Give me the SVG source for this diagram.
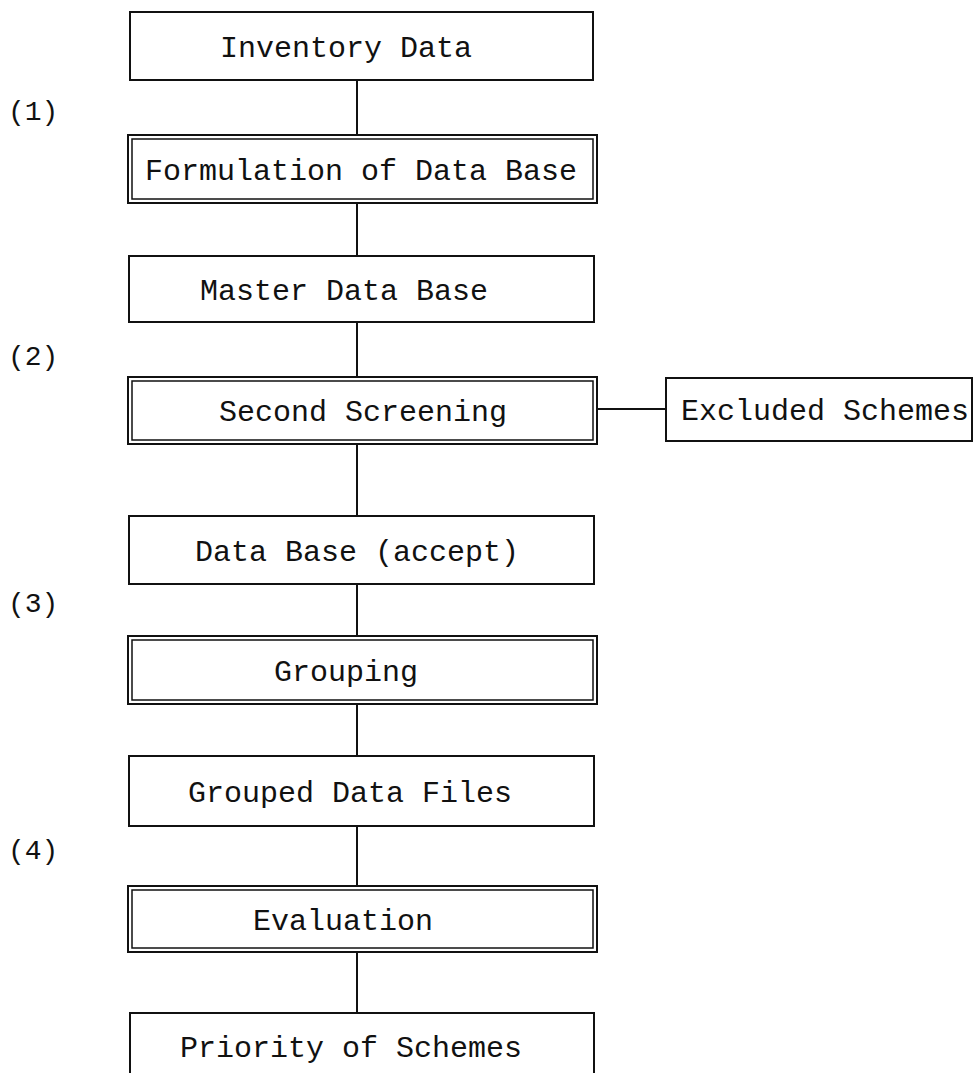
<svg xmlns="http://www.w3.org/2000/svg" width="974" height="1073" viewBox="0 0 974 1073">
<style>
.box{fill:#fff;stroke:#111;stroke-width:2}
.in{fill:none;stroke:#111;stroke-width:1.5}
.t{font-family:"Liberation Mono","Courier New",monospace;font-size:30px;fill:#111;text-anchor:middle}
.lbl{font-family:"Liberation Mono","Courier New",monospace;font-size:28px;fill:#111}
.c{stroke:#111;stroke-width:2;fill:none}
</style>
<rect width="974" height="1073" fill="#fff"/>
<g id="connectors">
<line class="c" x1="357" y1="80" x2="357" y2="135"/>
<line class="c" x1="357" y1="203" x2="357" y2="256"/>
<line class="c" x1="357" y1="322" x2="357" y2="377"/>
<line class="c" x1="357" y1="444" x2="357" y2="516"/>
<line class="c" x1="357" y1="584" x2="357" y2="636"/>
<line class="c" x1="357" y1="704" x2="357" y2="756"/>
<line class="c" x1="357" y1="826" x2="357" y2="886"/>
<line class="c" x1="357" y1="952" x2="357" y2="1013"/>
<line class="c" x1="597" y1="409" x2="666" y2="409" stroke-width="1.5"/>
</g>
<g id="labels">
<text class="lbl" x="8" y="120">(1)</text>
<text class="lbl" x="8" y="365">(2)</text>
<text class="lbl" x="8" y="612">(3)</text>
<text class="lbl" x="8" y="859">(4)</text>
</g>
<g id="n1"><rect class="box" x="130" y="12" width="463" height="68"/><text class="t" x="346" y="57">Inventory Data</text></g>
<g id="n2"><rect class="box" x="128" y="135" width="469" height="68"/><rect class="in" x="132" y="139" width="461" height="60"/><text class="t" x="361" y="180">Formulation of Data Base</text></g>
<g id="n3"><rect class="box" x="129" y="256" width="465" height="66"/><text class="t" x="344" y="300">Master Data Base</text></g>
<g id="n4"><rect class="box" x="128" y="377" width="469" height="67"/><rect class="in" x="132" y="381" width="461" height="59"/><text class="t" x="363" y="421">Second Screening</text></g>
<g id="n5"><rect class="box" x="666" y="378" width="306" height="63"/><text class="t" x="825" y="420">Excluded Schemes</text></g>
<g id="n6"><rect class="box" x="129" y="516" width="465" height="68"/><text class="t" x="357" y="561">Data Base (accept)</text></g>
<g id="n7"><rect class="box" x="128" y="636" width="469" height="68"/><rect class="in" x="132" y="640" width="461" height="60"/><text class="t" x="346" y="681">Grouping</text></g>
<g id="n8"><rect class="box" x="129" y="756" width="465" height="70"/><text class="t" x="350" y="802">Grouped Data Files</text></g>
<g id="n9"><rect class="box" x="128" y="886" width="469" height="66"/><rect class="in" x="132" y="890" width="461" height="58"/><text class="t" x="343" y="930">Evaluation</text></g>
<g id="n10"><rect class="box" x="130" y="1013" width="464" height="70"/><text class="t" x="351" y="1057">Priority of Schemes</text></g>
</svg>
